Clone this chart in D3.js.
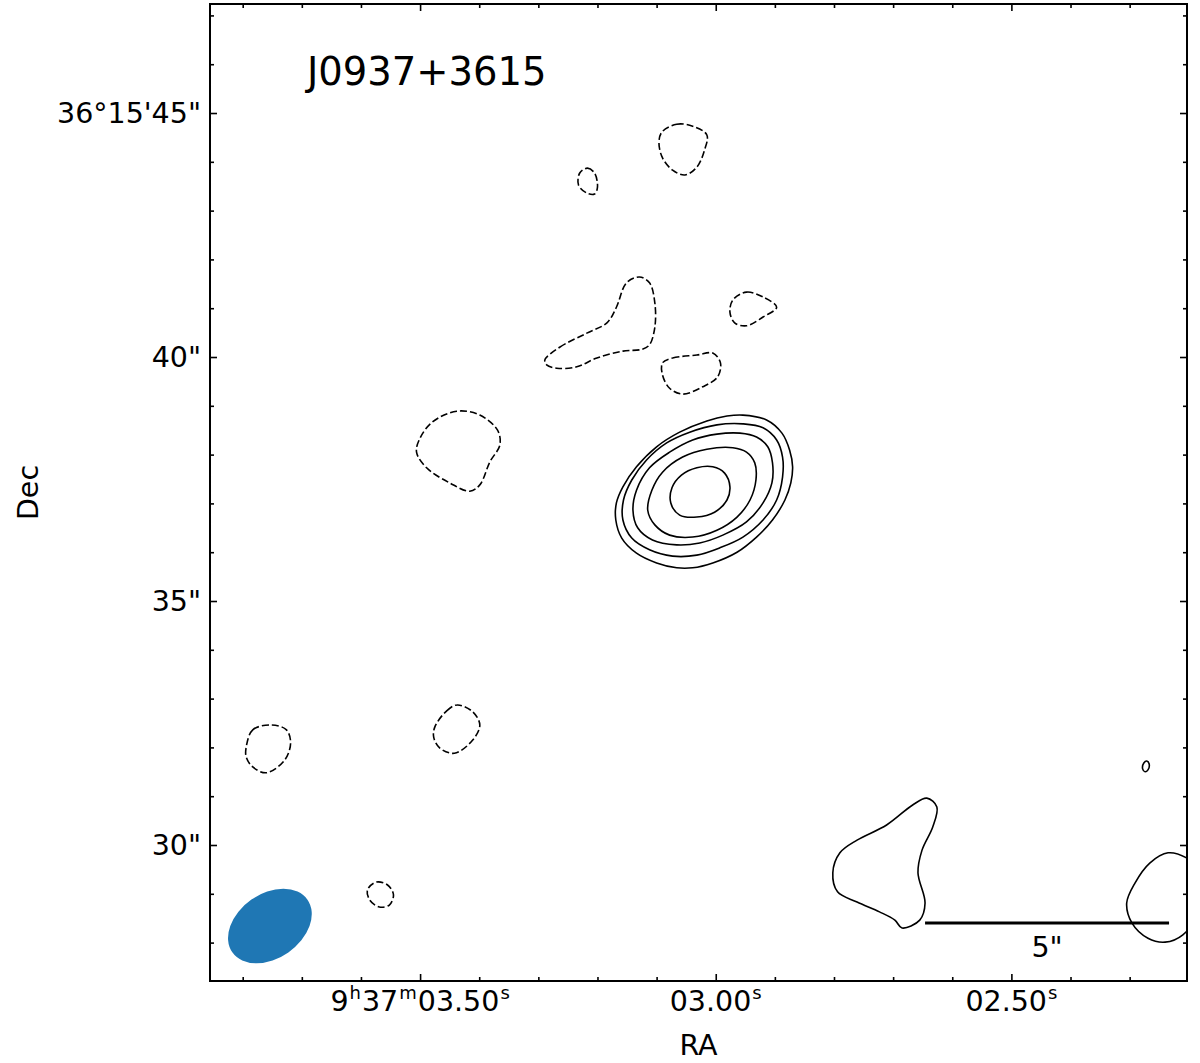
<!DOCTYPE html>
<html>
<head>
<meta charset="utf-8">
<script src="https://cdn.jsdelivr.net/npm/d3@7"></script>
<style>
  html, body { margin: 0; padding: 0; background: #fff; }
  svg { display: block; font-family: "DejaVu Sans", sans-serif; }
</style>
</head>
<body>
<svg id="chart" width="1200" height="1063"></svg>
<script>
// ---------- data (RA in seconds of 9h37m, Dec in arcsec of 36°15') ----------
const title = "J0937+3615";
const xMajorTicks = [3.5, 3.0, 2.5];
const xMinorTicks = [3.8, 3.7, 3.6, 3.4, 3.3, 3.2, 3.1, 2.9, 2.8, 2.7, 2.6, 2.4, 2.3];
const xTickLabels = ["9^h37^m03.50^s", "03.00^s", "02.50^s"];
const yMajorTicks = [30, 35, 40, 45];
const yMinorTicks = [28, 29, 31, 32, 33, 34, 36, 37, 38, 39, 41, 42, 43, 44, 46, 47];
const yTickLabels = ['30"', '35"', '40"', '36°15\'45"'];
const xLabel = "RA";
const yLabel = "Dec";

// positive (solid) contours
const core1 = [[2.954,38.81],[2.914,38.71],[2.888,38.44],[2.875,38.09],[2.870,37.75],[2.873,37.42],[2.883,37.07],[2.904,36.66],[2.931,36.31],[2.964,36.00],[3.005,35.78],[3.039,35.68],[3.066,35.68],[3.100,35.78],[3.134,35.98],[3.159,36.29],[3.169,36.66],[3.168,37.01],[3.157,37.34],[3.134,37.75],[3.100,38.16],[3.061,38.46],[3.015,38.69],[2.981,38.79]];
const core2 = [[2.954,38.63],[2.920,38.55],[2.897,38.30],[2.887,37.95],[2.887,37.54],[2.897,37.07],[2.920,36.66],[2.954,36.31],[2.993,36.09],[3.032,35.94],[3.073,35.92],[3.112,36.05],[3.142,36.29],[3.157,36.66],[3.156,37.07],[3.142,37.48],[3.117,37.89],[3.083,38.24],[3.044,38.46],[2.998,38.61]];
const core3 = [[2.959,38.44],[2.931,38.36],[2.912,38.16],[2.904,37.83],[2.905,37.42],[2.920,37.01],[2.948,36.62],[2.988,36.35],[3.027,36.19],[3.066,36.15],[3.107,36.25],[3.132,36.50],[3.140,36.86],[3.134,37.27],[3.112,37.73],[3.078,38.05],[3.039,38.30],[2.998,38.42]];
const core4 = [[2.971,38.14],[2.948,38.05],[2.934,37.83],[2.932,37.48],[2.942,37.07],[2.964,36.72],[2.998,36.45],[3.039,36.31],[3.078,36.35],[3.103,36.56],[3.115,36.86],[3.108,37.27],[3.090,37.64],[3.056,37.95],[3.015,38.11]];
const core5 = [[3.005,37.75],[2.985,37.62],[2.976,37.34],[2.981,37.07],[3.002,36.82],[3.032,36.72],[3.061,36.76],[3.076,37.01],[3.074,37.32],[3.058,37.58],[3.032,37.73]];
const posSE = [[2.802,29.43],[2.790,29.84],[2.761,30.10],[2.711,30.41],[2.667,30.82],[2.643,30.96],[2.626,30.78],[2.633,30.37],[2.651,29.90],[2.658,29.43],[2.646,28.81],[2.655,28.46],[2.685,28.30],[2.697,28.46],[2.723,28.63],[2.761,28.83],[2.794,29.04]];
const posEdge = [[2.203,29.73],[2.235,29.84],[2.266,29.63],[2.291,29.22],[2.305,28.81],[2.296,28.40],[2.269,28.09],[2.240,28.01],[2.210,28.16],[2.181,28.67],[2.181,29.49]];
const posTiny = [[2.278,31.56],[2.276,31.68],[2.271,31.72],[2.267,31.66],[2.269,31.54],[2.274,31.50]];

// negative (dashed) contours
const negTop = [[3.091,44.61],[3.066,44.77],[3.039,44.73],[3.015,44.55],[3.019,44.24],[3.032,43.89],[3.052,43.73],[3.073,43.83],[3.090,44.08],[3.096,44.39]];
const negSmall = [[3.230,43.77],[3.217,43.87],[3.205,43.77],[3.200,43.48],[3.205,43.34],[3.218,43.36],[3.232,43.52]];
const negLong = [[3.289,39.94],[3.264,40.20],[3.218,40.49],[3.184,40.70],[3.168,41.02],[3.151,41.52],[3.129,41.64],[3.112,41.52],[3.103,41.11],[3.103,40.61],[3.112,40.25],[3.124,40.16],[3.157,40.12],[3.201,39.98],[3.235,39.80],[3.269,39.77],[3.286,39.84]];
const negTri = [[2.971,41.17],[2.948,41.33],[2.920,41.23],[2.897,41.02],[2.920,40.82],[2.948,40.64],[2.968,40.70],[2.976,40.92]];
const negMid = [[3.090,39.88],[3.073,39.98],[3.032,40.04],[3.005,40.08],[2.992,39.88],[2.997,39.59],[3.022,39.39],[3.056,39.24],[3.078,39.36],[3.090,39.63]];
const negLeft = [[3.500,38.34],[3.479,38.67],[3.438,38.89],[3.399,38.81],[3.369,38.50],[3.365,38.20],[3.382,37.85],[3.399,37.38],[3.416,37.25],[3.450,37.42],[3.489,37.73],[3.506,38.05]];
const negFarLeft = [[3.794,32.01],[3.783,32.36],[3.751,32.46],[3.726,32.36],[3.719,32.09],[3.729,31.74],[3.760,31.48],[3.783,31.60],[3.794,31.80]];
const negLowMid = [[3.475,32.42],[3.455,32.75],[3.437,32.87],[3.411,32.73],[3.399,32.46],[3.411,32.15],[3.442,31.88],[3.467,31.99],[3.477,32.21]];
const negRing = [[3.589,29.08],[3.574,29.24],[3.555,29.18],[3.545,28.98],[3.552,28.77],[3.569,28.73],[3.585,28.87]];

const positiveContours = [core1, core2, core3, core4, core5, posSE, posEdge, posTiny];
const negativeContours = [negTop, negSmall, negLong, negTri, negMid, negLeft, negFarLeft, negLowMid, negRing];

// beam (full widths in arcsec, position angle in degrees from horizontal)
const beamCentre = [3.754, 28.34];
const beamSize = [1.88, 1.32];
const beamAngle = 35;
// scale bar
const scaleBarStart = [2.646, 28.40];
const scaleBarArcsec = 5;
const scaleBarLabel = '5"';

// ---------- layout ----------
const L = 210, R = 1187, T = 4, B = 981;
const svg = d3.select("#chart");
const x = d3.scaleLinear().domain([3.8553, 2.2030]).range([L, R]);
const y = d3.scaleLinear().domain([27.213, 47.234]).range([B, T]);
const pxPerArcsec = y(0) - y(1);

svg.append("defs").append("clipPath").attr("id", "plotclip")
  .append("rect").attr("x", L).attr("y", T).attr("width", R - L).attr("height", B - T);

const plot = svg.append("g").attr("clip-path", "url(#plotclip)");

const line = d3.line().x(d => x(d[0])).y(d => y(d[1])).curve(d3.curveCatmullRomClosed.alpha(0.5));

plot.selectAll("path.pos").data(positiveContours).join("path")
  .attr("class", "pos").attr("d", line)
  .attr("fill", "none").attr("stroke", "#000").attr("stroke-width", 1.6);

plot.selectAll("path.neg").data(negativeContours).join("path")
  .attr("class", "neg").attr("d", line)
  .attr("fill", "none").attr("stroke", "#000").attr("stroke-width", 1.6)
  .attr("stroke-dasharray", "7,3");

// beam
plot.append("ellipse")
  .attr("cx", 0).attr("cy", 0)
  .attr("rx", beamSize[0] / 2 * pxPerArcsec)
  .attr("ry", beamSize[1] / 2 * pxPerArcsec)
  .attr("transform", `translate(${x(beamCentre[0])},${y(beamCentre[1])}) rotate(${-beamAngle})`)
  .attr("fill", "#1f77b4");

// scale bar
const sbx = x(scaleBarStart[0]), sby = y(scaleBarStart[1]);
svg.append("line").attr("x1", sbx).attr("x2", sbx + scaleBarArcsec * pxPerArcsec)
  .attr("y1", sby).attr("y2", sby).attr("stroke", "#000").attr("stroke-width", 3);
svg.append("text").attr("x", sbx + scaleBarArcsec * pxPerArcsec / 2).attr("y", sby + 34)
  .attr("text-anchor", "middle").attr("font-size", 28.5).text(scaleBarLabel);

// ---------- axes (inward ticks on all sides) ----------
function ax(gen, tr, vals, size) {
  const g = svg.append("g").attr("transform", tr)
    .call(gen.tickValues(vals).tickSize(-size).tickFormat(""));
  g.select(".domain").remove();
  g.selectAll(".tick line").attr("stroke", "#000").attr("stroke-width", 1.6);
}
ax(d3.axisBottom(x), `translate(0,${B})`, xMajorTicks, 7);
ax(d3.axisBottom(x), `translate(0,${B})`, xMinorTicks, 4);
ax(d3.axisTop(x), `translate(0,${T})`, xMajorTicks, 7);
ax(d3.axisTop(x), `translate(0,${T})`, xMinorTicks, 4);
ax(d3.axisLeft(y), `translate(${L},0)`, yMajorTicks, 7);
ax(d3.axisLeft(y), `translate(${L},0)`, yMinorTicks, 4);
ax(d3.axisRight(y), `translate(${R},0)`, yMajorTicks, 7);
ax(d3.axisRight(y), `translate(${R},0)`, yMinorTicks, 4);

svg.append("rect").attr("x", L).attr("y", T).attr("width", R - L).attr("height", B - T)
  .attr("fill", "none").attr("stroke", "#000").attr("stroke-width", 2);

// y tick labels
svg.selectAll("text.ylab").data(yMajorTicks).join("text").attr("class", "ylab")
  .attr("x", L - 9).attr("y", d => y(d)).attr("dy", "0.36em")
  .attr("text-anchor", "end").attr("font-size", 28.5)
  .text((d, i) => yTickLabels[i]);

// x tick labels with superscripts
xMajorTicks.forEach((v, i) => {
  const t = svg.append("text").attr("x", x(v)).attr("y", 1011)
    .attr("text-anchor", "middle").attr("font-size", 28.5);
  const parts = xTickLabels[i].split(/(\^.)/).filter(s => s.length);
  let raised = false;
  parts.forEach(p => {
    if (p[0] === "^") {
      t.append("tspan").attr("font-size", 18).attr("dy", -12).attr("dx", 1).text(p[1]);
      raised = true;
    } else {
      t.append("tspan").attr("dy", raised ? 12 : 0).attr("dx", raised ? 1 : 0).text(p);
      raised = false;
    }
  });
});

// axis labels and title
svg.append("text").attr("x", (L + R) / 2).attr("y", 1055).attr("text-anchor", "middle")
  .attr("font-size", 28.5).text(xLabel);
svg.append("text").attr("transform", `translate(38,${(T + B) / 2}) rotate(-90)`)
  .attr("text-anchor", "middle").attr("font-size", 28.5).text(yLabel);
svg.append("text").attr("x", 307).attr("y", 85).attr("font-size", 38.5).text(title);
</script>
</body>
</html>
